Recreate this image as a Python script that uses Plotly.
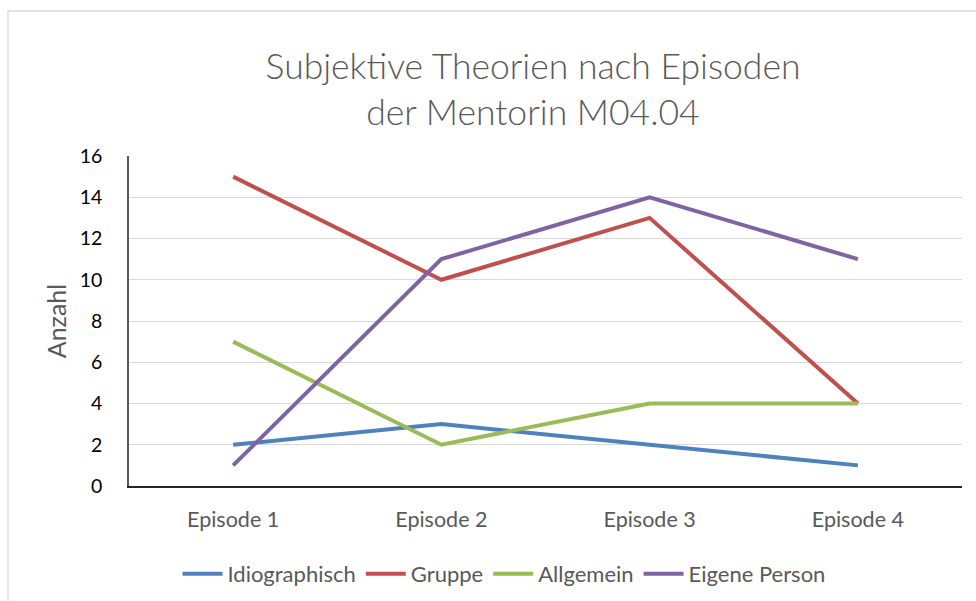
import plotly.graph_objects as go

categories = ["Episode 1", "Episode 2", "Episode 3", "Episode 4"]
idiographisch = [2, 3, 2, 1]
gruppe = [15, 10, 13, 4]
allgemein = [7, 2, 4, 4]
eigene_person = [1, 11, 14, 11]
y_ticks = [0, 2, 4, 6, 8, 10, 12, 14, 16]

series = [
    ("Idiographisch", idiographisch, "#4F81BD"),
    ("Gruppe", gruppe, "#C0504D"),
    ("Allgemein", allgemein, "#9BBB59"),
    ("Eigene Person", eigene_person, "#8064A2"),
]

W, H = 976, 601
L, R, T, B = 129, 14, 156, 115
pw, ph = W - L - R, H - T - B

def px_x(p):
    return (p - L) / pw

def px_y(p):
    return (H - B - p) / ph

fig = go.Figure()
for name, vals, col in series:
    fig.add_trace(go.Scatter(x=categories, y=vals, name=name, mode="lines",
                             line=dict(color=col, width=4)))

FONT = "Lato"
fig.update_layout(
    width=W, height=H,
    margin=dict(l=L, r=R, t=T, b=B, autoexpand=False),
    paper_bgcolor="white", plot_bgcolor="white",
    font=dict(family=FONT, color="#595959"),
    title=dict(text="Subjektive Theorien nach Episoden<br>der Mentorin M04.04",
               x=533 / W, xanchor="center", y=1 - 79 / H, yanchor="middle",
               font=dict(family=FONT, size=35.5, color="#595959", weight=300)),
    showlegend=True,
    legend=dict(orientation="h", x=px_x(504), xanchor="center",
                y=px_y(574), yanchor="middle",
                font=dict(family=FONT, size=22, color="#595959"),
                itemwidth=40, tracegroupgap=0),
    xaxis=dict(type="category", range=[-0.5, 3.5], showgrid=False,
               showline=True, linecolor="#262626", linewidth=1.5,
               ticks="", tickfont=dict(family=FONT, size=21.5, color="#595959"),
               ticklabelstandoff=13),
    yaxis=dict(range=[0, 16], tickvals=y_ticks, showgrid=True,
               gridcolor="#D9D9D9", gridwidth=1.3, zeroline=False,
               showline=True, linecolor="#595959", linewidth=1.5,
               ticks="", tickfont=dict(family=FONT, size=19.5, color="#000000"),
               ticklabelstandoff=21,
               title=dict(text="Anzahl", font=dict(family=FONT, size=25, color="#595959"),
                          standoff=6)),
)

fig.add_shape(type="rect", xref="paper", yref="paper",
              x0=px_x(8), x1=px_x(W + 20), y0=px_y(H + 20), y1=px_y(11),
              line=dict(color="#D9D9D9", width=1.3), fillcolor="rgba(0,0,0,0)",
              layer="below")

fig.write_html("out.html", config={"displayModeBar": False},
               post_script="document.body.style.margin='0px';document.body.style.overflow='hidden';")
